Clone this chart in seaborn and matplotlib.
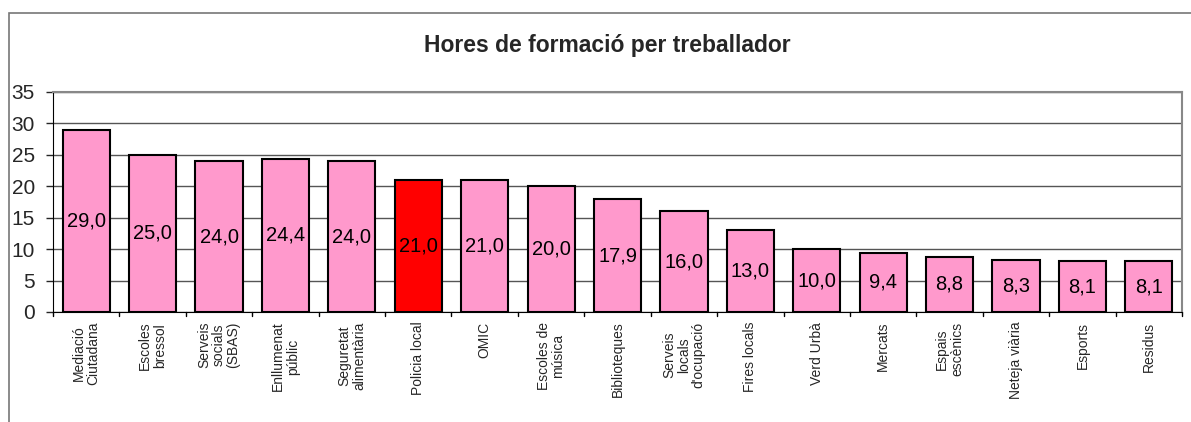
import matplotlib
matplotlib.use("Agg")
import matplotlib.pyplot as plt
import seaborn as sns
import pandas as pd
from matplotlib.patches import Rectangle

categories = ["Mediació\nCiutadana", "Escoles\nbressol", "Serveis\nsocials\n(SBAS)",
              "Enllumenat\npúblic", "Seguretat\nalimentària", "Policia local", "OMIC",
              "Escoles de\nmúsica", "Biblioteques", "Serveis\nlocals\nd'ocupació",
              "Fires locals", "Verd Urbà", "Mercats", "Espais\nescènics",
              "Neteja viària", "Esports", "Residus"]
values = [29.0, 25.0, 24.0, 24.4, 24.0, 21.0, 21.0, 20.0, 17.9, 16.0,
          13.0, 10.0, 9.4, 8.8, 8.3, 8.1, 8.1]
highlight = "Policia local"

df = pd.DataFrame({"cat": categories, "val": values})
colors = ["#FF0000" if c == highlight else "#FF99CC" for c in categories]

sns.set_style("white")
plt.rcParams["font.family"] = ["Liberation Sans", "DejaVu Sans"]

fig = plt.figure(figsize=(11.91, 4.22), dpi=100)
ax = fig.add_axes([0.0445, 0.2607, 0.948, 0.5213])

sns.barplot(data=df, x="cat", y="val", hue="cat", palette=colors, legend=False,
            width=0.71, edgecolor="black", linewidth=1.5, saturation=1, ax=ax, zorder=3)

ax.set_ylim(0, 35)
ax.set_yticks(range(0, 36, 5))
ax.yaxis.grid(True, color="#555555", linewidth=1, zorder=0)
ax.set_axisbelow(True)
ax.set_xlim(-0.5, len(categories) - 0.5)

for i, v in enumerate(values):
    ax.text(i, v / 2, f"{v:.1f}".replace(".", ","), ha="center", va="center",
            fontsize=14.5, color="black", zorder=4)

ax.set_xlabel("")
ax.set_ylabel("")
ax.set_xticks(range(len(categories)))
ax.set_xticklabels(categories, rotation=90, fontsize=10, va="top", ha="center",
                   multialignment="center", linespacing=1.05)
ax.tick_params(axis="x", length=0, pad=7)
ax.tick_params(axis="y", labelsize=15, length=5, width=1, direction="out", left=True, pad=8)

# boundary ticks under the x axis
for b in range(len(categories) + 1):
    ax.plot([b - 0.5, b - 0.5], [0, -0.7], color="black", linewidth=1, clip_on=False)

for s in ["top", "right"]:
    ax.spines[s].set_color("#888888")
    ax.spines[s].set_linewidth(1.5)
ax.spines["left"].set_color("black")
ax.spines["bottom"].set_color("black")

fig.text(0.51, 0.893, "Hores de formació per treballador", ha="center", va="center",
         fontsize=16.5, fontweight="bold")

fig.add_artist(Rectangle((9 / 1191, -0.05), 1.1, 1 - 13 / 422 + 0.05,
                         transform=fig.transFigure, fill=False,
                         edgecolor="#777777", linewidth=1.2))

fig.savefig("out.png", dpi=100)
